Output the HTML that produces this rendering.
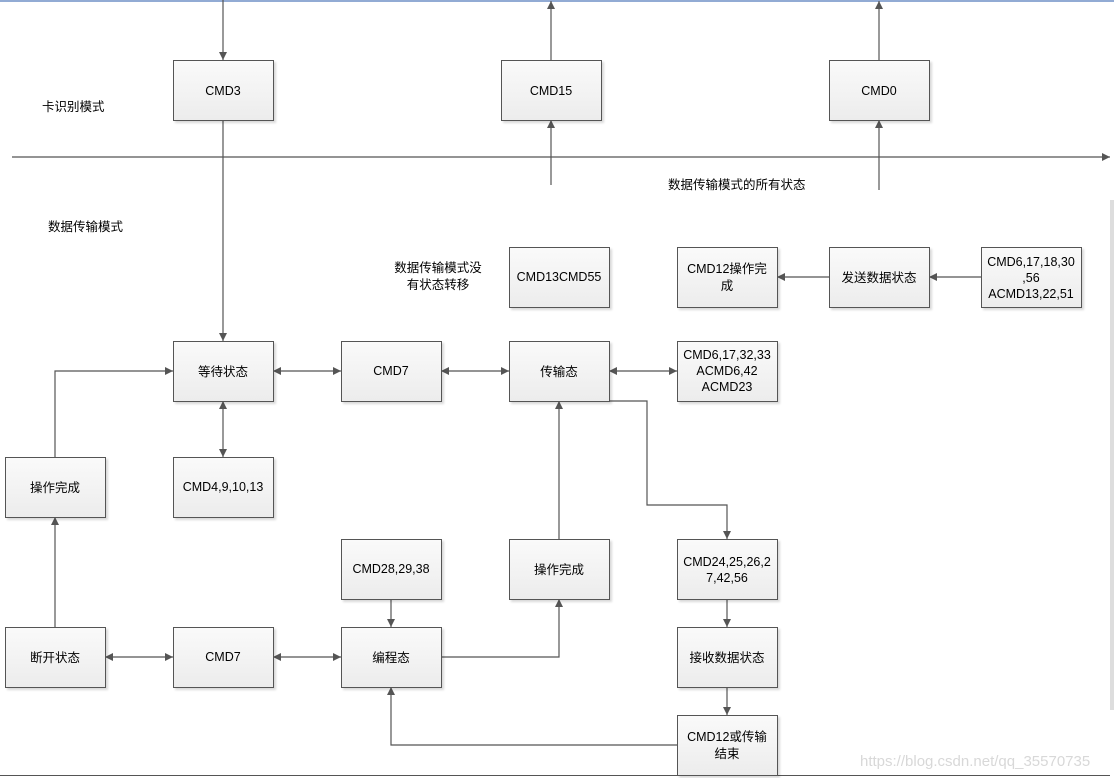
<!DOCTYPE html>
<html><head><meta charset="utf-8"><style>
html,body{margin:0;padding:0;background:#fff;}
svg{display:block;}
text{font-family:"Liberation Sans","Noto Sans CJK SC",sans-serif;font-size:12.5px;fill:#000;}
</style></head><body>
<svg width="1114" height="778" viewBox="0 0 1114 778" xmlns="http://www.w3.org/2000/svg">
<defs>
<linearGradient id="g" x1="0" y1="0" x2="0" y2="1"><stop offset="0" stop-color="#fafafa"/><stop offset="1" stop-color="#ececec"/></linearGradient>
<marker id="a" viewBox="0 0 10 10" refX="10" refY="5" markerWidth="8" markerHeight="8" orient="auto-start-reverse" markerUnits="userSpaceOnUse"><path d="M0,0 L10,5 L0,10 z" fill="#555"/></marker>
<filter id="s" x="-5%" y="-5%" width="115%" height="115%"><feDropShadow dx="2" dy="2" stdDeviation="1" flood-color="#000" flood-opacity="0.15"/></filter>
</defs>
<line x1="0" y1="1" x2="1114" y2="1" stroke="#6f8fc5" stroke-width="1.5"/>
<line x1="0" y1="775.5" x2="1110" y2="775.5" stroke="#555" stroke-width="1"/>
<rect x="1110" y="200" width="4" height="510" fill="#ddd"/>
<g stroke="#555" stroke-width="1.2" fill="none">
<line x1="12" y1="157" x2="1110" y2="157" marker-end="url(#a)"/>
<line x1="223" y1="0" x2="223" y2="60" marker-end="url(#a)"/>
<line x1="223" y1="120" x2="223" y2="341" marker-end="url(#a)"/>
<line x1="551" y1="60" x2="551" y2="1" marker-end="url(#a)"/>
<line x1="551" y1="185" x2="551" y2="120" marker-end="url(#a)"/>
<line x1="879" y1="60" x2="879" y2="1" marker-end="url(#a)"/>
<line x1="879" y1="190" x2="879" y2="120" marker-end="url(#a)"/>
<line x1="981" y1="277" x2="929" y2="277" marker-end="url(#a)"/>
<line x1="829" y1="277" x2="777" y2="277" marker-end="url(#a)"/>
<line x1="273" y1="371" x2="341" y2="371" marker-start="url(#a)" marker-end="url(#a)"/>
<line x1="441" y1="371" x2="509" y2="371" marker-start="url(#a)" marker-end="url(#a)"/>
<line x1="609" y1="371" x2="677" y2="371" marker-start="url(#a)" marker-end="url(#a)"/>
<line x1="223" y1="401" x2="223" y2="457" marker-start="url(#a)" marker-end="url(#a)"/>
<line x1="55" y1="627" x2="55" y2="517" marker-end="url(#a)"/>
<polyline points="55,457 55,371 173,371" marker-end="url(#a)"/>
<polyline points="609,401 647,401 647,505 727,505 727,539" marker-end="url(#a)"/>
<line x1="559" y1="539" x2="559" y2="401" marker-end="url(#a)"/>
<polyline points="441,657 559,657 559,599" marker-end="url(#a)"/>
<line x1="391" y1="599" x2="391" y2="627" marker-end="url(#a)"/>
<line x1="105" y1="657" x2="173" y2="657" marker-start="url(#a)" marker-end="url(#a)"/>
<line x1="273" y1="657" x2="341" y2="657" marker-start="url(#a)" marker-end="url(#a)"/>
<line x1="727" y1="599" x2="727" y2="627" marker-end="url(#a)"/>
<line x1="727" y1="687" x2="727" y2="715" marker-end="url(#a)"/>
<polyline points="677,745 391,745 391,687" marker-end="url(#a)"/>
</g>
<g fill="url(#g)" stroke="#555" stroke-width="1" filter="url(#s)">
<rect x="173.5" y="60.5" width="100" height="60"/>
<rect x="501.5" y="60.5" width="100" height="60"/>
<rect x="829.5" y="60.5" width="100" height="60"/>
<rect x="509.5" y="247.5" width="100" height="60"/>
<rect x="677.5" y="247.5" width="100" height="60"/>
<rect x="829.5" y="247.5" width="100" height="60"/>
<rect x="981.5" y="247.5" width="100" height="60"/>
<rect x="173.5" y="341.5" width="100" height="60"/>
<rect x="341.5" y="341.5" width="100" height="60"/>
<rect x="509.5" y="341.5" width="100" height="60"/>
<rect x="677.5" y="341.5" width="100" height="60"/>
<rect x="5.5" y="457.5" width="100" height="60"/>
<rect x="173.5" y="457.5" width="100" height="60"/>
<rect x="341.5" y="539.5" width="100" height="60"/>
<rect x="509.5" y="539.5" width="100" height="60"/>
<rect x="677.5" y="539.5" width="100" height="60"/>
<rect x="5.5" y="627.5" width="100" height="60"/>
<rect x="173.5" y="627.5" width="100" height="60"/>
<rect x="341.5" y="627.5" width="100" height="60"/>
<rect x="677.5" y="627.5" width="100" height="60"/>
<rect x="677.5" y="715.5" width="100" height="60"/>
</g>
<g text-anchor="middle">
<text x="223" y="95">CMD3</text>
<text x="551" y="95">CMD15</text>
<text x="879" y="95">CMD0</text>
<text x="559" y="281">CMD13CMD55</text>
<text x="727" y="273">CMD12操作完</text>
<text x="727" y="290">成</text>
<text x="879" y="282">发送数据状态</text>
<text x="1031" y="266">CMD6,17,18,30</text>
<text x="1031" y="282">,56</text>
<text x="1031" y="298">ACMD13,22,51</text>
<text x="223" y="376">等待状态</text>
<text x="391" y="375">CMD7</text>
<text x="559" y="376">传输态</text>
<text x="727" y="359">CMD6,17,32,33</text>
<text x="727" y="375">ACMD6,42</text>
<text x="727" y="391">ACMD23</text>
<text x="55" y="492">操作完成</text>
<text x="223" y="491">CMD4,9,10,13</text>
<text x="391" y="573">CMD28,29,38</text>
<text x="559" y="574">操作完成</text>
<text x="727" y="566">CMD24,25,26,2</text>
<text x="727" y="582">7,42,56</text>
<text x="55" y="662">断开状态</text>
<text x="223" y="661">CMD7</text>
<text x="391" y="662">编程态</text>
<text x="727" y="662">接收数据状态</text>
<text x="727" y="741">CMD12或传输</text>
<text x="727" y="758">结束</text>
<text x="438" y="272">数据传输模式没</text>
<text x="438" y="289">有状态转移</text>
</g>
<text x="42" y="111">卡识别模式</text>
<text x="48" y="231">数据传输模式</text>
<text x="668" y="189">数据传输模式的所有状态</text>
<text x="860" y="766" style="fill:#d8d8d8;font-size:15px">https://blog.csdn.net/qq_35570735</text>
</svg>
</body></html>
